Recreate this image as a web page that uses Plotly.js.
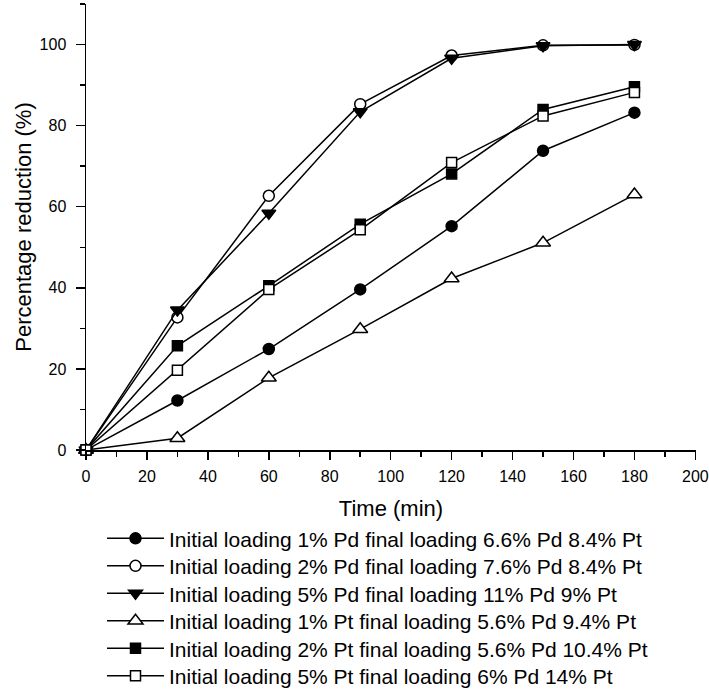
<!DOCTYPE html>
<html>
<head>
<meta charset="utf-8">
<script src="https://cdn.plot.ly/plotly-3.0.1.min.js"></script>
<style>html,body{margin:0;padding:0;background:#fff;}#chart{width:709px;height:690px;}</style>
</head>
<body>
<div id="chart"></div>
<script>
const times = [0, 30, 60, 90, 120, 150, 180];
const pd1 = [0, 12.2, 24.9, 39.6, 55.2, 73.8, 83.2];
const pd2 = [0, 32.7, 62.7, 85.3, 97.3, 99.8, 99.9];
const pd5 = [0, 34.5, 58.4, 83.4, 96.6, 99.7, 100];
const pt1 = [0, 2.9, 17.8, 29.8, 42.3, 51.1, 63.0];
const pt2 = [0, 25.7, 40.5, 55.7, 68.1, 84.0, 89.6];
const pt5 = [0, 19.7, 39.6, 54.3, 70.9, 82.4, 88.2];
const seriesNames = [
  "Initial loading 1% Pd final loading 6.6% Pd 8.4% Pt",
  "Initial loading 2% Pd final loading 7.6% Pd 8.4% Pt",
  "Initial loading 5% Pd final loading 11% Pd 9% Pt",
  "Initial loading 1% Pt final loading 5.6% Pd 9.4% Pt",
  "Initial loading 2% Pt final loading 5.6% Pd 10.4% Pt",
  "Initial loading 5% Pt final loading 6% Pd 14% Pt"
];
const seriesData = [pd1, pd2, pd5, pt1, pt2, pt5];
const symbols = ["circle", "circle", "triangle-down", "triangle-up", "square", "square"];
const fills = ["#000", "#fff", "#000", "#fff", "#000", "#fff"];
const sizes = [11, 11, 12, 13, 10, 10];

const FONT = "Liberation Sans, Arial, Helvetica, sans-serif";
const traces = seriesData.map((ys, i) => ({
  x: times, y: ys, name: seriesNames[i], type: "scatter", mode: "lines+markers",
  cliponaxis: false,
  legend: i === 0 ? "legend" : "legend" + (i + 1),
  line: {color: "#000", width: 1.5},
  marker: {symbol: symbols[i], size: sizes[i], color: fills[i], line: {color: "#000", width: 1.5}}
}));

const plotTop = 4, plotBottom = 450, plotH = plotBottom - plotTop;
const rowY = [538.7, 566.2, 593.7, 621.2, 648.7, 676.2];
const layout = {
  width: 709, height: 690,
  margin: {l: 86, r: 13, t: plotTop, b: 690 - plotBottom, autoexpand: false},
  paper_bgcolor: "#fff", plot_bgcolor: "#fff",
  font: {family: FONT, color: "#000"},
  showlegend: true,
  xaxis: {
    range: [0, 200.2], tickmode: "linear", tick0: 0, dtick: 20,
    ticks: "outside", ticklen: 8, tickwidth: 1.5, tickcolor: "#000",
    minor: {ticks: "outside", dtick: 10, ticklen: 5, tickwidth: 1.5, tickcolor: "#000", showgrid: false},
    showline: true, linecolor: "#000", linewidth: 1.5, showgrid: false, zeroline: false,
    tickfont: {size: 16, family: FONT}, ticklabelstandoff: 3, ticklabeloverflow: "allow",
    title: {text: "Time (min)", font: {size: 22, family: FONT}, standoff: 17}
  },
  yaxis: {
    range: [0, 110], tickmode: "linear", tick0: 0, dtick: 20,
    ticks: "outside", ticklen: 9, tickwidth: 1.5, tickcolor: "#000",
    minor: {ticks: "outside", dtick: 10, ticklen: 5, tickwidth: 1.5, tickcolor: "#000", showgrid: false},
    showline: true, linecolor: "#000", linewidth: 1.5, showgrid: false, zeroline: false,
    tickfont: {size: 16, family: FONT}, ticklabelstandoff: 6,
    title: {text: "Percentage reduction (%)", font: {size: 22, family: FONT}, standoff: 2}
  }
};
rowY.forEach((py, i) => {
  const key = i === 0 ? "legend" : "legend" + (i + 1);
  layout[key] = {
    x: (102 - 86) / 610, xanchor: "left",
    y: (plotBottom - py) / plotH, yanchor: "middle",
    bgcolor: "rgba(0,0,0,0)", borderwidth: 0, itemwidth: 57,
    font: {size: 21, family: FONT, color: "#000"}
  };
});
Plotly.newPlot("chart", traces, layout, {displayModeBar: false, staticPlot: true});
</script>
</body>
</html>
